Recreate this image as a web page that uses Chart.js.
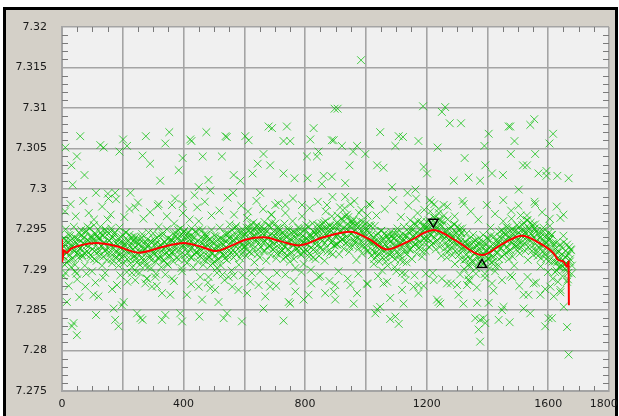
<!DOCTYPE html>
<html>
<head>
<meta charset="utf-8">
<script src="https://cdn.jsdelivr.net/npm/chart.js@4.4.1/dist/chart.umd.min.js"></script>
<style>
  html, body { margin: 0; padding: 0; background: #fff; overflow: hidden; }
  .frame { position: absolute; left: 3px; top: 7px; width: 609px; height: 420px;
           border-left: 3px solid #000; border-top: 3px solid #000; border-right: 3px solid #000;
           background: #d4d0c8; }
  #myChart { position: absolute; left: 0; top: 0; }
</style>
</head>
<body>
<div class="frame"></div>
<canvas id="myChart" width="619" height="416"></canvas>
<script>
/* axis ticks */
const xTicks = [0, 200, 400, 600, 800, 1000, 1200, 1400, 1600, 1800];
const xTickLabels = ['0', '', '400', '', '800', '', '1200', '', '1600', '1800\u00a0\u00a0\u00a0'];
const yTicks = [7.275, 7.28, 7.285, 7.29, 7.295, 7.3, 7.305, 7.31, 7.315, 7.32];
const yTickLabels = ['7.275', '7.28', '7.285', '7.29', '7.295', '7.3', '7.305', '7.31', '7.315', '7.32'];

/* dense cloud, one value every 3 samples (0 .. 1677) */
const bandStep = 3;
const bandY = [
  7.2937,7.2917,7.2928,7.2906,7.2950,7.2921,7.2934,7.2911,7.2926,7.2942,7.2903,7.2931,7.2914,7.2953,7.2923,7.2939,7.2895,7.2932,7.2919,7.2945,
  7.2926,7.2949,7.2918,7.2933,7.2940,7.2905,7.2946,7.2930,7.2953,7.2921,7.2935,7.2914,7.2942,7.2898,7.2937,7.2955,7.2923,7.2944,7.2911,7.2934,
  7.2939,7.2917,7.2953,7.2929,7.2905,7.2942,7.2933,7.2923,7.2948,7.2912,7.2962,7.2926,7.2936,7.2920,7.2951,7.2908,7.2940,7.2930,7.2945,7.2915,
  7.2916,7.2931,7.2905,7.2952,7.2919,7.2940,7.2925,7.2934,7.2908,7.2929,7.2946,7.2897,7.2937,7.2922,7.2943,7.2913,7.2928,7.2903,7.2935,7.2941,
  7.2917,7.2940,7.2909,7.2924,7.2931,7.2896,7.2937,7.2921,7.2944,7.2912,7.2926,7.2905,7.2933,7.2889,7.2928,7.2946,7.2914,7.2935,7.2902,7.2925,
  7.2945,7.2919,7.2932,7.2895,7.2939,7.2923,7.2953,7.2914,7.2931,7.2903,7.2942,7.2926,7.2911,7.2934,7.2921,7.2950,7.2906,7.2928,7.2917,7.2937,
  7.2921,7.2936,7.2910,7.2957,7.2924,7.2945,7.2930,7.2939,7.2913,7.2934,7.2951,7.2902,7.2942,7.2927,7.2948,7.2918,7.2933,7.2908,7.2940,7.2946,
  7.2937,7.2915,7.2951,7.2927,7.2903,7.2940,7.2931,7.2921,7.2946,7.2910,7.2960,7.2924,7.2934,7.2918,7.2949,7.2906,7.2938,7.2928,7.2943,7.2913,
  7.2936,7.2916,7.2927,7.2905,7.2949,7.2920,7.2933,7.2910,7.2925,7.2941,7.2902,7.2930,7.2913,7.2952,7.2922,7.2938,7.2894,7.2931,7.2918,7.2944,
  7.2935,7.2912,7.2945,7.2924,7.2956,7.2938,7.2899,7.2943,7.2915,7.2936,7.2922,7.2954,7.2931,7.2947,7.2906,7.2941,7.2934,7.2919,7.2950,7.2927,
  7.2928,7.2943,7.2917,7.2964,7.2931,7.2952,7.2937,7.2946,7.2920,7.2941,7.2958,7.2909,7.2949,7.2934,7.2955,7.2925,7.2940,7.2915,7.2947,7.2953,
  7.2945,7.2923,7.2959,7.2935,7.2911,7.2948,7.2939,7.2929,7.2954,7.2918,7.2968,7.2932,7.2942,7.2926,7.2957,7.2914,7.2946,7.2936,7.2951,7.2921,
  7.2944,7.2924,7.2935,7.2913,7.2957,7.2928,7.2941,7.2918,7.2933,7.2949,7.2910,7.2938,7.2921,7.2960,7.2930,7.2946,7.2902,7.2939,7.2926,7.2952,
  7.2928,7.2951,7.2920,7.2935,7.2942,7.2907,7.2948,7.2932,7.2955,7.2923,7.2937,7.2916,7.2944,7.2900,7.2939,7.2957,7.2925,7.2946,7.2913,7.2936,
  7.2955,7.2949,7.2917,7.2942,7.2927,7.2957,7.2936,7.2951,7.2911,7.2960,7.2943,7.2922,7.2948,7.2939,7.2954,7.2933,7.2966,7.2919,7.2945,7.2930,
  7.2953,7.2931,7.2967,7.2943,7.2919,7.2956,7.2947,7.2937,7.2962,7.2926,7.2976,7.2940,7.2950,7.2934,7.2965,7.2922,7.2954,7.2944,7.2959,7.2929,
  7.2962,7.2936,7.2949,7.2912,7.2956,7.2940,7.2970,7.2931,7.2948,7.2920,7.2959,7.2943,7.2928,7.2951,7.2938,7.2967,7.2923,7.2945,7.2934,7.2954,
  7.2918,7.2933,7.2907,7.2954,7.2921,7.2942,7.2927,7.2936,7.2910,7.2931,7.2948,7.2899,7.2939,7.2924,7.2945,7.2915,7.2930,7.2905,7.2937,7.2943,
  7.2924,7.2947,7.2916,7.2931,7.2938,7.2903,7.2944,7.2928,7.2951,7.2919,7.2933,7.2912,7.2940,7.2896,7.2935,7.2953,7.2921,7.2942,7.2909,7.2932,
  7.2947,7.2925,7.2961,7.2937,7.2913,7.2950,7.2941,7.2931,7.2956,7.2920,7.2970,7.2934,7.2944,7.2928,7.2959,7.2916,7.2948,7.2938,7.2953,7.2923,
  7.2959,7.2939,7.2950,7.2928,7.2972,7.2943,7.2956,7.2933,7.2948,7.2964,7.2925,7.2953,7.2936,7.2975,7.2945,7.2961,7.2917,7.2954,7.2941,7.2967,
  7.2926,7.2941,7.2915,7.2962,7.2929,7.2950,7.2935,7.2944,7.2918,7.2939,7.2956,7.2907,7.2947,7.2932,7.2953,7.2923,7.2938,7.2913,7.2945,7.2951,
  7.2924,7.2901,7.2934,7.2913,7.2945,7.2927,7.2888,7.2932,7.2904,7.2925,7.2911,7.2943,7.2920,7.2936,7.2895,7.2930,7.2923,7.2908,7.2939,7.2916,
  7.2929,7.2907,7.2943,7.2919,7.2895,7.2932,7.2923,7.2913,7.2938,7.2902,7.2952,7.2916,7.2926,7.2910,7.2941,7.2898,7.2930,7.2920,7.2935,7.2905,
  7.2947,7.2927,7.2938,7.2916,7.2960,7.2931,7.2944,7.2921,7.2936,7.2952,7.2913,7.2941,7.2924,7.2963,7.2933,7.2949,7.2905,7.2942,7.2929,7.2955,
  7.2931,7.2946,7.2920,7.2967,7.2934,7.2955,7.2940,7.2949,7.2923,7.2944,7.2961,7.2912,7.2952,7.2937,7.2958,7.2928,7.2943,7.2918,7.2950,7.2956,
  7.2925,7.2948,7.2917,7.2932,7.2939,7.2904,7.2945,7.2929,7.2952,7.2920,7.2934,7.2913,7.2941,7.2897,7.2936,7.2954,7.2922,7.2943,7.2910,7.2933,
  7.2919,7.2897,7.2933,7.2909,7.2885,7.2922,7.2913,7.2903,7.2928,7.2892,7.2942,7.2906,7.2916,7.2900,7.2931,7.2888,7.2920,7.2910,7.2925,7.2895
];
/* second pass of the core, shifted by one sample */
const band2Offset = 1;
const band2Y = [
  7.2931,7.2916,7.2939,7.2922,7.2935,7.2909,7.2927,7.2943,7.2918,7.2936,7.2913,7.2929,7.2924,7.2940,7.2906,7.2933,7.2920,7.2938,7.2915,7.2926,
  7.2927,7.2943,7.2916,7.2938,7.2932,7.2920,7.2948,7.2923,7.2936,7.2929,7.2951,7.2918,7.2940,7.2925,7.2934,7.2913,7.2945,7.2930,7.2941,7.2922,
  7.2938,7.2923,7.2946,7.2929,7.2942,7.2916,7.2934,7.2950,7.2925,7.2943,7.2920,7.2936,7.2931,7.2947,7.2913,7.2940,7.2927,7.2945,7.2922,7.2933,
  7.2922,7.2938,7.2911,7.2933,7.2927,7.2915,7.2943,7.2918,7.2931,7.2924,7.2946,7.2913,7.2935,7.2920,7.2929,7.2908,7.2940,7.2925,7.2936,7.2917,
  7.2928,7.2913,7.2936,7.2919,7.2932,7.2906,7.2924,7.2940,7.2915,7.2933,7.2910,7.2926,7.2921,7.2937,7.2903,7.2930,7.2917,7.2935,7.2912,7.2923,
  7.2921,7.2937,7.2910,7.2932,7.2926,7.2914,7.2942,7.2917,7.2930,7.2923,7.2945,7.2912,7.2934,7.2919,7.2928,7.2907,7.2939,7.2924,7.2935,7.2916,
  7.2937,7.2922,7.2945,7.2928,7.2941,7.2915,7.2933,7.2949,7.2924,7.2942,7.2919,7.2935,7.2930,7.2946,7.2912,7.2939,7.2926,7.2944,7.2921,7.2932,
  7.2926,7.2942,7.2915,7.2937,7.2931,7.2919,7.2947,7.2922,7.2935,7.2928,7.2950,7.2917,7.2939,7.2924,7.2933,7.2912,7.2944,7.2929,7.2940,7.2921,
  7.2930,7.2915,7.2938,7.2921,7.2934,7.2908,7.2926,7.2942,7.2917,7.2935,7.2912,7.2928,7.2923,7.2939,7.2905,7.2932,7.2919,7.2937,7.2914,7.2925,
  7.2928,7.2944,7.2917,7.2939,7.2933,7.2921,7.2949,7.2924,7.2937,7.2930,7.2952,7.2919,7.2941,7.2926,7.2935,7.2914,7.2946,7.2931,7.2942,7.2923,
  7.2944,7.2929,7.2952,7.2935,7.2948,7.2922,7.2940,7.2956,7.2931,7.2949,7.2926,7.2942,7.2937,7.2953,7.2919,7.2946,7.2933,7.2951,7.2928,7.2939,
  7.2934,7.2950,7.2923,7.2945,7.2939,7.2927,7.2955,7.2930,7.2943,7.2936,7.2958,7.2925,7.2947,7.2932,7.2941,7.2920,7.2952,7.2937,7.2948,7.2929,
  7.2938,7.2923,7.2946,7.2929,7.2942,7.2916,7.2934,7.2950,7.2925,7.2943,7.2920,7.2936,7.2931,7.2947,7.2913,7.2940,7.2927,7.2945,7.2922,7.2933,
  7.2929,7.2945,7.2918,7.2940,7.2934,7.2922,7.2950,7.2925,7.2938,7.2931,7.2953,7.2920,7.2942,7.2927,7.2936,7.2915,7.2947,7.2932,7.2943,7.2924,
  7.2946,7.2931,7.2954,7.2937,7.2950,7.2924,7.2942,7.2958,7.2933,7.2951,7.2928,7.2944,7.2939,7.2955,7.2921,7.2948,7.2935,7.2953,7.2930,7.2941,
  7.2942,7.2958,7.2931,7.2953,7.2947,7.2935,7.2963,7.2938,7.2951,7.2944,7.2966,7.2933,7.2955,7.2940,7.2949,7.2928,7.2960,7.2945,7.2956,7.2937,
  7.2948,7.2933,7.2956,7.2939,7.2952,7.2926,7.2944,7.2960,7.2935,7.2953,7.2930,7.2946,7.2941,7.2957,7.2923,7.2950,7.2937,7.2955,7.2932,7.2943,
  7.2924,7.2940,7.2913,7.2935,7.2929,7.2917,7.2945,7.2920,7.2933,7.2926,7.2948,7.2915,7.2937,7.2922,7.2931,7.2910,7.2942,7.2927,7.2938,7.2919,
  7.2935,7.2920,7.2943,7.2926,7.2939,7.2913,7.2931,7.2947,7.2922,7.2940,7.2917,7.2933,7.2928,7.2944,7.2910,7.2937,7.2924,7.2942,7.2919,7.2930,
  7.2936,7.2952,7.2925,7.2947,7.2941,7.2929,7.2957,7.2932,7.2945,7.2938,7.2960,7.2927,7.2949,7.2934,7.2943,7.2922,7.2954,7.2939,7.2950,7.2931,
  7.2953,7.2938,7.2961,7.2944,7.2957,7.2931,7.2949,7.2965,7.2940,7.2958,7.2935,7.2951,7.2946,7.2962,7.2928,7.2955,7.2942,7.2960,7.2937,7.2948,
  7.2932,7.2948,7.2921,7.2943,7.2937,7.2925,7.2953,7.2928,7.2941,7.2934,7.2956,7.2923,7.2945,7.2930,7.2939,7.2918,7.2950,7.2935,7.2946,7.2927,
  7.2927,7.2912,7.2935,7.2918,7.2931,7.2905,7.2923,7.2939,7.2914,7.2932,7.2909,7.2925,7.2920,7.2936,7.2902,7.2929,7.2916,7.2934,7.2911,7.2922,
  7.2918,7.2934,7.2907,7.2929,7.2923,7.2911,7.2939,7.2914,7.2927,7.2920,7.2942,7.2909,7.2931,7.2916,7.2925,7.2904,7.2936,7.2921,7.2932,7.2913,
  7.2941,7.2926,7.2949,7.2932,7.2945,7.2919,7.2937,7.2953,7.2928,7.2946,7.2923,7.2939,7.2934,7.2950,7.2916,7.2943,7.2930,7.2948,7.2925,7.2936,
  7.2937,7.2953,7.2926,7.2948,7.2942,7.2930,7.2958,7.2933,7.2946,7.2939,7.2961,7.2928,7.2950,7.2935,7.2944,7.2923,7.2955,7.2940,7.2951,7.2932,
  7.2936,7.2921,7.2944,7.2927,7.2940,7.2914,7.2932,7.2948,7.2923,7.2941,7.2918,7.2934,7.2929,7.2945,7.2911,7.2938,7.2925,7.2943,7.2920,7.2931,
  7.2910,7.2926,7.2899,7.2921,7.2915,7.2903,7.2931,7.2906,7.2919,7.2912,7.2934,7.2901,7.2923,7.2908,7.2917,7.2896,7.2928,7.2913,7.2924,7.2905
];

/* thinner halo just above and below the cloud */
const haloPts = [
  [10,7.2972],[28,7.2981],[45,7.2966],[70,7.2985],[88,7.2970],[105,7.2962],[132,7.2978],[160,7.2968],[178,7.2987],[205,7.2965],
  [222,7.2975],[250,7.2983],[268,7.2963],[290,7.2971],[315,7.2979],[345,7.2966],[372,7.2988],[398,7.2970],[420,7.2962],[445,7.2977],
  [470,7.2984],[492,7.2967],[518,7.2973],[545,7.2989],[566,7.2968],[590,7.2979],[612,7.2972],[640,7.2985],[662,7.2975],[688,7.2968],
  [712,7.2982],[735,7.2970],[760,7.2988],[790,7.2966],[815,7.2976],[842,7.2984],[868,7.2972],[890,7.2990],[915,7.2977],[938,7.2968],
  [962,7.2985],[985,7.2974],[1010,7.2981],[1035,7.2967],[1062,7.2975],[1090,7.2986],[1115,7.2965],[1140,7.2979],[1165,7.2988],[1192,7.2974],
  [1215,7.2983],[1240,7.2970],[1268,7.2978],[1292,7.2966],[1318,7.2985],[1345,7.2972],[1370,7.2962],[1398,7.2980],[1425,7.2969],[1452,7.2986],
  [1478,7.2973],[1502,7.2979],[1530,7.2967],[1555,7.2984],[1580,7.2971],[1605,7.2963],[1628,7.2978],[1650,7.2968],
  [5,7.2892],[22,7.2880],[50,7.2888],[80,7.2895],[110,7.2884],[135,7.2890],[165,7.2876],[192,7.2893],[215,7.2885],[245,7.2897],
  [280,7.2889],[312,7.2880],[340,7.2894],[368,7.2886],[395,7.2898],[425,7.2882],[455,7.2891],[480,7.2884],[510,7.2896],[535,7.2887],
  [560,7.2879],[595,7.2893],[620,7.2885],[652,7.2898],[680,7.2888],[705,7.2880],[735,7.2894],[762,7.2886],[788,7.2897],[820,7.2883],
  [850,7.2892],[880,7.2886],[910,7.2898],[940,7.2889],[975,7.2895],[1005,7.2882],[1040,7.2892],[1070,7.2885],[1100,7.2898],[1130,7.2887],
  [1160,7.2893],[1190,7.2880],[1220,7.2896],[1250,7.2889],[1280,7.2883],[1310,7.2894],[1340,7.2886],[1365,7.2878],[1392,7.2890],[1420,7.2874],
  [1448,7.2887],[1475,7.2893],[1505,7.2880],[1532,7.2891],[1560,7.2884],[1590,7.2876],[1615,7.2889],[1640,7.2872],[1662,7.2885]
];

/* scattered outliers */
const upperPts = [
  [60,7.3065],[11,7.3051],[49,7.3040],[31,7.3029],[74,7.3017],[35,7.3005],[126,7.3054],[137,7.3051],[189,7.3046],[201,7.3061],
  [214,7.3053],[276,7.3065],[265,7.3041],[290,7.3031],[353,7.3070],[340,7.3056],[323,7.3010],[384,7.3023],[397,7.3038],[422,7.3061],
  [426,7.3059],[475,7.3070],[463,7.3040],[526,7.3040],[482,7.3011],[488,7.2998],[450,7.3002],[436,7.2992],[538,7.3065],[542,7.3064],
  [603,7.3065],[614,7.3060],[565,7.3017],[587,7.3010],[563,7.2995],[627,7.3019],[644,7.3031],[663,7.3043],[685,7.3029],[680,7.3077],
  [691,7.3075],[740,7.3077],[729,7.3059],[751,7.3059],[729,7.3019],[765,7.3013],[652,7.2995],[806,7.3040],[828,7.3075],[817,7.3061],
  [844,7.3046],[839,7.3040],[808,7.3013],[861,7.3016],[855,7.3006],[888,7.3015],[897,7.3099],[888,7.3060],[790,7.2980],[872,7.2980],
  [702,7.2980],[735,7.2980],[112,7.2995],[151,7.2994],[175,7.2995],[153,7.2988],[225,7.2995],[241,7.2977],[318,7.2981],[362,7.2980],
  [397,7.2981],
  [984,7.3159],[907,7.3099],[1188,7.3102],[1250,7.3095],[1261,7.3101],[1276,7.3081],[1313,7.3081],[1047,7.3070],[1108,7.3065],[1122,7.3064],
  [1173,7.3059],[1097,7.3053],[894,7.3060],[921,7.3053],[971,7.3053],[958,7.3046],[998,7.3043],[946,7.3029],[932,7.3007],[1037,7.3029],
  [1058,7.3026],[1086,7.3002],[1137,7.2995],[1163,7.2999],[1190,7.3027],[1201,7.3019],[1236,7.3051],[1289,7.3010],[1325,7.3038],[1338,7.3014],
  [1376,7.3010],[1404,7.3068],[1390,7.3053],[1393,7.3029],[1415,7.3019],[1451,7.3017],[1470,7.3077],[1475,7.3077],[1541,7.3079],[1554,7.3086],
  [1489,7.3059],[1477,7.3043],[1517,7.3029],[1530,7.3029],[1557,7.3043],[1568,7.3019],[1594,7.3022],[1594,7.3016],[1630,7.3016],[1667,7.3013],
  [1616,7.3068],[1604,7.3056],[1503,7.2999],[1322,7.2981],[1557,7.2981],[1210,7.2986],[1225,7.2981],[1256,7.2980],[932,7.2990],[949,7.2981],
  [1014,7.2980],[1640,7.2964]
];
const lowerPts = [
  [38,7.2834],[33,7.2830],[49,7.2819],[16,7.2860],[57,7.2866],[112,7.2844],[175,7.2838],[186,7.2830],[197,7.2856],[170,7.2852],
  [247,7.2846],[258,7.2840],[265,7.2838],[329,7.2838],[340,7.2844],[395,7.2836],[389,7.2846],[452,7.2842],[532,7.2840],[543,7.2846],
  [592,7.2836],[663,7.2852],[729,7.2837],[746,7.2860],[751,7.2858],
  [11,7.2896],[44,7.2898],[77,7.2879],[104,7.2869],[120,7.2867],[142,7.2896],[181,7.2881],[203,7.2860],[230,7.2896],[241,7.2887],
  [274,7.2883],[296,7.2879],[307,7.2891],[329,7.2871],[362,7.2889],[356,7.2869],[411,7.2869],[450,7.2879],[482,7.2891],[488,7.2877],
  [504,7.2875],[461,7.2863],[515,7.2860],[548,7.2891],[565,7.2893],[581,7.2875],[609,7.2871],[625,7.2896],[647,7.2881],[669,7.2867],
  [685,7.2879],[707,7.2896],[768,7.2873],[795,7.2863],[811,7.2869],[844,7.2891],[866,7.2871],[894,7.2873],
  [1376,7.2811],[1371,7.2826],[1376,7.2838],[1360,7.2840],[1387,7.2840],[1393,7.2834],[1437,7.2838],[1473,7.2835],[1590,7.2830],[1601,7.2840],
  [1612,7.2840],[1662,7.2829],[1667,7.2795],[1651,7.2854],[1519,7.2852],[1541,7.2846],[1453,7.2854],[1448,7.2850],[1037,7.2851],[1047,7.2854],
  [1080,7.2839],[1097,7.2842],[1108,7.2833],[1031,7.2846],[1124,7.2858],[1366,7.2859],[1404,7.2859],[1239,7.2860],[899,7.2863],[960,7.2858],
  [899,7.2881],[949,7.2881],[971,7.2871],[1004,7.2883],[1058,7.2883],[1080,7.2865],[1119,7.2875],[1157,7.2879],[1173,7.2871],[1173,7.2881],
  [1223,7.2887],[1234,7.2863],[1245,7.2858],[1267,7.2883],[1300,7.2881],[1305,7.2869],[1321,7.2858],[1333,7.2881],[1338,7.2893],[1415,7.2883],
  [1481,7.2891],[1519,7.2869],[1535,7.2869],[1552,7.2883],[1574,7.2869],[1607,7.2879],[1618,7.2867],[1640,7.2875],[1129,7.2895],[1197,7.2895]
];

/* smoothed trend (red) */
const trendX = [0, 1, 6, 15, 30, 60, 115, 180, 252, 330, 400, 460, 505, 560, 603, 663, 720, 779, 860, 949, 1010, 1069, 1140, 1223, 1300, 1382, 1450, 1514, 1570, 1618, 1633, 1650, 1662, 1667, 1668];
const trendY = [7.2938, 7.2910, 7.2924, 7.2921, 7.2926, 7.2930, 7.2933, 7.2929, 7.2921, 7.2928, 7.2933, 7.2928, 7.2923, 7.2930, 7.2937, 7.2940, 7.2935, 7.2930, 7.2940, 7.2947, 7.2938, 7.2925, 7.2935, 7.2949, 7.2935, 7.2918, 7.2932, 7.2942, 7.2933, 7.2920, 7.2912, 7.2910, 7.2904, 7.2910, 7.2856];

/* peak / valley markers */
const peakPt = [1222, 7.2959];
const valleyPt = [1382, 7.2906];

const toXY = a => a.map(p => ({x: p[0], y: p[1]}));
const cloud = bandY.map((y, i) => ({x: i * bandStep, y: y}))
  .concat(band2Y.map((y, i) => ({x: i * bandStep + band2Offset, y: y})))
  .concat(toXY(haloPts), toXY(upperPts), toXY(lowerPts));
const trend = trendX.map((x, i) => ({x: x, y: trendY[i]}));

const fontSet = {family: '"DejaVu Sans", Verdana, sans-serif', size: 11};

/* plot background + inner minor ticks */
const plotDeco = {
  id: 'plotDeco',
  beforeDraw(chart) {
    const a = chart.chartArea, c = chart.ctx;
    c.save();
    c.fillStyle = '#f0f0f0';
    c.fillRect(a.left, a.top, a.right - a.left, a.bottom - a.top);
    c.restore();
  },
  beforeDatasetsDraw(chart) {
    const a = chart.chartArea, c = chart.ctx;
    const xs = chart.scales.x, ys = chart.scales.y;
    c.save();
    c.strokeStyle = '#7a7a7a';
    c.lineWidth = 1;
    c.beginPath();
    for (let v = 50; v < 1800; v += 50) {
      if (v % 200 === 0) continue;
      const px = Math.round(xs.getPixelForValue(v)) + 0.5;
      c.moveTo(px, a.top); c.lineTo(px, a.top + 5);
      c.moveTo(px, a.bottom); c.lineTo(px, a.bottom - 5);
    }
    for (let k = 1; k < 45; k++) {
      if (k % 5 === 0) continue;
      const py = Math.round(ys.getPixelForValue(7.275 + k * 0.001)) + 0.5;
      c.moveTo(a.left, py); c.lineTo(a.left + 6, py);
      c.moveTo(a.right, py); c.lineTo(a.right - 6, py);
    }
    c.stroke();
    c.restore();
  }
};

const ctx = document.getElementById('myChart');

const myChart = new Chart(ctx, {
  type: 'scatter',
  data: {
    datasets: [{
      type: 'line',
      data: [{x: peakPt[0], y: peakPt[1]}],
      showLine: false,
      pointStyle: 'triangle',
      rotation: 180,
      pointRadius: 5.5,
      pointBorderColor: '#000',
      pointBackgroundColor: 'rgba(0,0,0,0)',
      pointBorderWidth: 1.4,
      order: 0
    }, {
      type: 'line',
      data: [{x: valleyPt[0], y: valleyPt[1]}],
      showLine: false,
      pointStyle: 'triangle',
      pointRadius: 5.5,
      pointBorderColor: '#000',
      pointBackgroundColor: 'rgba(0,0,0,0)',
      pointBorderWidth: 1.4,
      order: 1
    }, {
      type: 'line',
      data: trend,
      borderColor: '#ff0000',
      borderWidth: 2,
      pointRadius: 0,
      cubicInterpolationMode: 'monotone',
      fill: false,
      order: 2
    }, {
      data: cloud,
      pointStyle: 'crossRot',
      pointRadius: 5.5,
      pointBorderWidth: 1,
      pointBorderColor: 'rgba(0,188,0,0.72)',
      pointBackgroundColor: 'rgba(0,188,0,0.72)',
      order: 3
    }]
  },
  options: {
    responsive: false,
    animation: false,
    layout: { padding: { left: 0, top: 27, right: 10, bottom: 0 } },
    plugins: { legend: { display: false }, tooltip: { enabled: false } },
    scales: {
      x: {
        type: 'linear',
        min: 0, max: 1800,
        afterBuildTicks: s => { s.ticks = xTicks.map(v => ({value: v})); },
        afterFit: s => { s.height = 25; s.paddingLeft = 0; s.paddingRight = 0; },
        ticks: {
          autoSkip: false, maxRotation: 0, padding: 7,
          color: '#1a1a1a', font: fontSet,
          callback: (v, i) => xTickLabels[i]
        },
        grid: { color: '#a4a4a4', lineWidth: 1.6, drawTicks: false },
        border: { color: '#a4a4a4', width: 2 }
      },
      y: {
        type: 'linear',
        min: 7.275, max: 7.32,
        afterBuildTicks: s => { s.ticks = yTicks.map(v => ({value: v})); },
        afterFit: s => { s.width = 62; },
        ticks: {
          autoSkip: false, padding: 15,
          color: '#1a1a1a', font: fontSet,
          callback: (v, i) => yTickLabels[i]
        },
        grid: { color: '#a4a4a4', lineWidth: 1.6, drawTicks: false },
        border: { color: '#a4a4a4', width: 2 }
      }
    }
  },
  plugins: [plotDeco]
});
</script>
</body>
</html>
